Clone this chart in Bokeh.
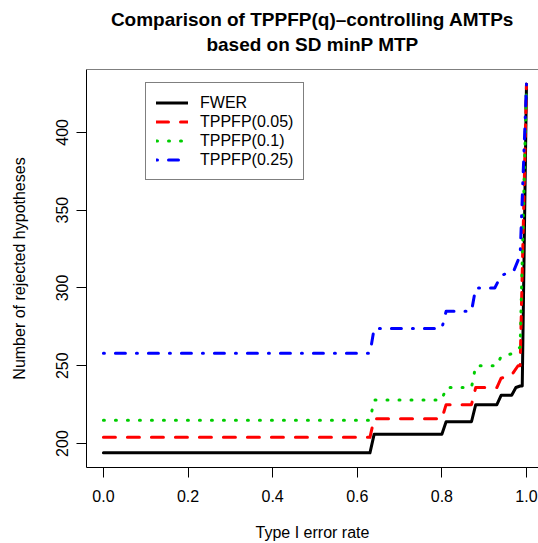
from bokeh.plotting import figure
from bokeh.models import (Range1d, LinearAxis, FixedTicker, NumeralTickFormatter,
                          Legend, LegendItem, Title, Span)
from bokeh.embed import file_html
from bokeh.resources import INLINE

# ---- data ----
fwer_x = [0.0, 0.63, 0.64, 0.80, 0.81, 0.87, 0.88, 0.93, 0.94, 0.965, 0.975, 0.985, 0.99, 1.0]
fwer_y = [194, 194, 206, 206, 214, 214, 225, 225, 231, 231, 236, 237, 237, 431]

q05_x = [0.0, 0.63, 0.64, 0.80, 0.81, 0.87, 0.88, 0.93, 0.94, 0.965, 0.98, 0.985, 1.0]
q05_y = [204, 204, 216, 216, 225, 225, 236, 236, 242, 244, 250, 250, 431]

q10_x = [0.0, 0.63, 0.64, 0.80, 0.81, 0.87, 0.88, 0.93, 0.94, 0.97, 0.985, 1.0]
q10_y = [215, 215, 228, 228, 236, 236, 250, 250, 256, 258, 262, 431]

q25_x = [0.0, 0.63, 0.64, 0.80, 0.81, 0.87, 0.88, 0.925, 0.94, 0.97, 0.985, 1.0]
q25_y = [258, 258, 274, 274, 285, 285, 300, 300, 308, 311, 321, 431]

labels = ["FWER", "TPPFP(0.05)", "TPPFP(0.1)", "TPPFP(0.25)"]
colors = ["black", "red", "#00CD00", "blue"]
dashes = ["solid", "12 12", "1 11", "1 11 10 11"]

x_ticks = [0.0, 0.2, 0.4, 0.6, 0.8, 1.0]
y_ticks = [200, 250, 300, 350, 400]

title_lines = ["Comparison of TPPFP(q)–controlling AMTPs", "based on SD minP MTP"]

FONT = "Liberation Sans"

p = figure(width=538, height=543, output_backend="svg", toolbar_location=None,
           x_range=Range1d(-0.04, 1.0284), y_range=Range1d(184.6, 440.4),
           x_axis_type=None, y_axis_type=None,
           min_border_left=86, min_border_right=0, min_border_top=69, min_border_bottom=75)
p.outline_line_color = None
p.xgrid.visible = False
p.ygrid.visible = False
p.background_fill_color = "white"
p.border_fill_color = "white"

xaxis = LinearAxis(ticker=FixedTicker(ticks=x_ticks), formatter=NumeralTickFormatter(format="0.0"),
                   axis_label="Type I error rate")
yaxis = LinearAxis(ticker=FixedTicker(ticks=y_ticks), axis_label="Number of rejected hypotheses")
for ax in (xaxis, yaxis):
    ax.axis_line_color = "black"
    ax.major_tick_line_color = "black"
    ax.major_tick_out = 10
    ax.major_tick_in = 0
    ax.minor_tick_line_color = None
    ax.major_label_text_font = FONT
    ax.major_label_text_font_size = "16px"
    ax.major_label_text_color = "black"
    ax.axis_label_text_font = FONT
    ax.axis_label_text_font_size = "16px"
    ax.axis_label_text_font_style = "normal"
    ax.axis_label_text_color = "black"
xaxis.major_label_standoff = 12
xaxis.axis_label_standoff = 19
yaxis.major_label_orientation = "vertical"
yaxis.major_label_standoff = 8
yaxis.axis_label_standoff = 26
p.add_layout(xaxis, "below")
p.add_layout(yaxis, "left")

p.add_layout(Span(location=440.4, dimension="width", line_color="black", line_width=1))

series = [(fwer_x, fwer_y), (q05_x, q05_y), (q10_x, q10_y), (q25_x, q25_y)]
items = []
for (xs, ys), lab, col, dash in zip(series, labels, colors, dashes):
    r = p.line(xs, ys, line_color=col, line_width=3, line_dash=dash,
               line_cap="round", line_join="round")
    items.append(LegendItem(label=lab, renderers=[r]))

legend = Legend(items=items, location=(59, 287))
legend.border_line_color = "black"
legend.border_line_width = 1
legend.background_fill_alpha = 1
legend.label_text_font = FONT
legend.label_text_font_size = "16px"
legend.label_text_color = "black"
legend.glyph_width = 32
legend.glyph_height = 19
legend.label_height = 19
legend.label_standoff = 12
legend.spacing = 0
legend.padding = 10
legend.margin = 0
p.add_layout(legend, "center")

t2 = Title(text=title_lines[1], align="center", text_font=FONT, text_color="black",
           text_font_size="19px", text_font_style="bold", standoff=30, offset=0)
t1 = Title(text=title_lines[0], align="center", text_font=FONT,
           text_color="black", text_font_size="19px", text_font_style="bold", standoff=-26, offset=0)
p.add_layout(t2, "above")
p.add_layout(t1, "above")

open("out.html", "w").write(file_html(p, INLINE))
